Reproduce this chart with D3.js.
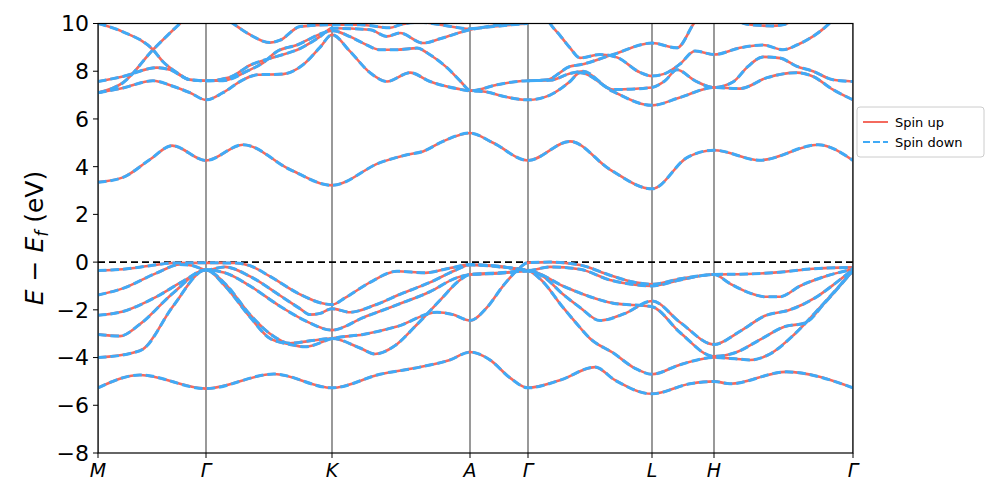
<!DOCTYPE html>
<html><head><meta charset="utf-8">
<script src="https://cdn.jsdelivr.net/npm/d3@7"></script>
<style>body{margin:0;background:#fff}svg{display:block}text{font-family:"DejaVu Sans",sans-serif}</style>
</head><body><svg id="c" width="997" height="498"></svg>
<script>
const kTicks = [0, 1.08, 2.34, 3.72, 4.30, 5.54, 6.16, 7.55];
const kLabels = ["M", "Γ", "K", "A", "Γ", "L", "H", "Γ"];
const yTicks = [-8, -6, -4, -2, 0, 2, 4, 6, 8, 10];
const seriesNames = ["Spin up", "Spin down"];

// bands: [k, E-Ef] samples
const bandBottom = [[0,-5.27],[0.42,-4.73],[1.08,-5.3],[1.76,-4.69],[2.34,-5.27],[2.82,-4.7],[3.22,-4.4],[3.52,-4.1],[3.72,-3.77],[3.92,-4.1],[4.12,-4.85],[4.30,-5.27],[4.62,-4.95],[4.97,-4.4],[5.17,-4.95],[5.54,-5.52],[5.92,-5.1],[6.16,-5.0],[6.32,-5.1],[6.88,-4.6],[7.55,-5.27]];
const bandV1 = [[0,-0.35],[0.25,-0.3],[0.52,-0.15],[0.75,-0.04],[1.08,-0.03],[1.37,-0.04],[1.52,-0.15],[1.72,-0.6],[2.02,-1.35],[2.22,-1.7],[2.34,-1.78],[2.47,-1.5],[2.72,-0.85],[2.99,-0.38],[3.27,-0.45],[3.52,-0.25],[3.72,-0.1],[4.02,-0.18],[4.30,-0.35],[4.52,-0.2],[4.82,-0.3],[5.12,-0.75],[5.37,-0.95],[5.54,-1.0],[5.82,-0.75],[6.16,-0.52],[6.32,-0.9],[6.52,-1.3],[6.67,-1.45],[6.82,-1.45],[7.02,-1.0],[7.27,-0.6],[7.55,-0.3]];
const bandV2 = [[0,-1.38],[0.25,-1.1],[0.59,-0.45],[0.82,-0.1],[0.95,-0.15],[1.08,-0.33],[1.27,-0.2],[1.52,-0.6],[1.82,-1.4],[2.02,-1.95],[2.12,-2.2],[2.22,-2.15],[2.34,-1.95],[2.52,-2.1],[2.77,-1.8],[3.02,-1.35],[3.32,-0.85],[3.57,-0.35],[3.72,-0.12],[4.02,-0.2],[4.30,-0.35],[4.39,-0.45],[4.65,-1.0],[4.92,-1.45],[5.15,-1.72],[5.54,-1.87],[5.82,-2.95],[6.16,-3.95],[6.37,-3.8],[6.62,-3.25],[6.87,-2.7],[7.07,-2.55],[7.27,-1.7],[7.55,-0.35]];
const bandV3 = [[0,-2.23],[0.25,-2.07],[0.59,-1.44],[0.85,-0.8],[1.08,-0.33],[1.27,-0.45],[1.52,-1.0],[1.82,-1.85],[2.07,-2.45],[2.34,-2.85],[2.65,-2.33],[2.99,-1.79],[3.32,-1.24],[3.59,-0.65],[3.72,-0.52],[4.02,-0.45],[4.30,-0.37],[4.45,-0.6],[4.65,-1.35],[4.82,-1.9],[5.02,-2.45],[5.27,-2.15],[5.54,-1.63],[5.82,-2.52],[6.16,-3.45],[6.42,-2.9],[6.67,-2.25],[6.92,-2.0],[7.17,-1.5],[7.37,-0.9],[7.55,-0.3]];
const bandV4 = [[0,-3.03],[0.22,-3.1],[0.42,-2.6],[0.75,-1.3],[1.08,-0.33],[1.27,-0.9],[1.52,-2.2],[1.72,-3.0],[1.92,-3.4],[2.12,-3.3],[2.34,-3.2],[2.62,-3.6],[2.77,-3.85],[2.97,-3.5],[3.17,-2.7],[3.42,-1.6],[3.62,-0.75],[3.72,-0.52],[4.02,-0.47],[4.30,-0.37],[4.42,-0.7],[4.65,-1.9],[4.82,-2.74],[4.92,-3.2],[5.15,-3.8],[5.37,-4.45],[5.54,-4.7],[5.82,-4.3],[6.16,-4.0],[6.37,-4.05],[6.52,-4.1],[6.72,-3.85],[6.97,-3.0],[7.22,-1.9],[7.55,-0.35]];
const bandV5 = [[0,-4.0],[0.35,-3.8],[0.45,-3.65],[0.75,-1.85],[1.08,-0.33],[1.27,-1.0],[1.52,-2.3],[1.72,-3.2],[1.92,-3.45],[2.07,-3.55],[2.34,-3.2],[2.65,-3.03],[2.99,-2.7],[3.39,-2.1],[3.55,-2.2],[3.72,-2.45],[3.89,-1.9],[4.05,-1.0],[4.19,-0.35],[4.30,-0.02],[4.52,0.0],[4.82,-0.12],[5.12,-0.55],[5.37,-0.85],[5.54,-0.93],[5.82,-0.7],[6.16,-0.52],[6.49,-0.5],[6.82,-0.42],[7.15,-0.28],[7.55,-0.22]];
const bandC1 = [[0,3.35],[0.25,3.55],[0.52,4.3],[0.74,4.88],[1.08,4.26],[1.45,4.92],[1.92,3.88],[2.34,3.22],[2.82,4.17],[3.09,4.5],[3.25,4.64],[3.45,5.06],[3.72,5.41],[3.95,5.0],[4.30,4.26],[4.72,5.06],[5.12,3.88],[5.54,3.07],[5.89,4.38],[6.16,4.69],[6.62,4.27],[7.20,4.92],[7.55,4.26]];
const bandU1 = [[0,10.0],[0.25,9.65],[0.55,8.9],[0.65,8.4],[0.79,7.94],[0.92,7.64],[1.08,7.6],[1.32,7.75],[1.52,8.25],[1.77,8.6],[2.02,8.95],[2.22,9.45],[2.34,9.8],[2.72,9.74],[2.89,9.46],[3.02,9.6],[3.25,9.18],[3.42,9.36],[3.72,9.74],[4.02,9.9],[4.30,10.0]];
const bandU2 = [[0,7.1],[0.25,7.52],[0.55,8.9],[0.82,10.0],[0.95,10.5]];
const bandU3 = [[0,7.57],[0.25,7.78],[0.59,8.15],[0.72,8.06],[0.92,7.64],[1.08,7.6],[1.25,7.6],[1.49,8.0],[1.65,8.35],[1.79,8.83],[1.99,9.1],[2.25,9.6],[2.34,9.7],[2.52,9.45],[2.65,9.18],[2.82,8.9],[2.99,8.9],[3.19,8.97],[3.32,8.69],[3.49,8.15],[3.62,7.6],[3.72,7.2],[3.89,7.13],[4.05,6.95],[4.30,6.8],[4.52,7.0],[4.72,7.57],[4.82,7.94],[5.15,7.15],[5.54,6.57],[5.82,6.9],[6.16,7.32],[6.42,7.27],[6.69,7.73],[6.99,7.94],[7.15,7.78],[7.35,7.23],[7.55,6.8]];
const bandU4 = [[0,7.1],[0.25,7.3],[0.55,7.6],[0.75,7.37],[0.92,7.1],[1.08,6.8],[1.25,7.1],[1.45,7.64],[1.59,7.85],[1.85,7.88],[2.05,8.27],[2.22,9.0],[2.34,9.53],[2.52,8.83],[2.72,7.94],[2.89,7.57],[3.12,7.94],[3.32,7.57],[3.59,7.27],[3.72,7.18],[3.99,7.43],[4.19,7.57],[4.30,7.6],[4.52,7.62],[4.72,7.9],[4.85,8.0],[5.15,7.23],[5.54,7.32],[5.67,7.6],[5.79,8.06],[5.97,7.6],[6.16,7.32],[6.35,7.55],[6.5,8.2],[6.65,8.6],[6.82,8.55],[6.99,8.2],[7.15,8.0],[7.35,7.64],[7.55,7.57]];
const bandU5 = [[1.22,10.4],[1.35,10.0],[1.52,9.53],[1.72,9.2],[1.82,9.3],[2.02,9.87],[2.34,9.95],[2.62,9.95],[2.92,9.82],[3.02,9.95],[3.22,10.05],[3.42,9.95],[3.72,9.78],[4.02,9.95],[4.30,10.02]];
const bandU6 = [[4.45,10.5],[4.52,10.0],[4.62,9.5],[4.72,8.98],[4.82,8.56],[5.02,8.7],[5.19,8.58],[5.42,7.95],[5.54,7.8],[5.67,7.9],[5.82,8.3],[5.97,8.85],[6.16,8.7],[6.42,8.98],[6.65,9.1],[6.85,8.9],[6.99,9.1],[7.15,9.46],[7.30,9.95],[7.40,10.4]];
const bandU7 = [[4.30,7.6],[4.49,7.64],[4.72,8.2],[4.82,8.27],[5.15,8.7],[5.54,9.18],[5.79,8.98],[5.95,9.95],[6.02,10.4]];
const bandU8 = [[6.32,10.3],[6.49,9.97],[6.75,9.9],[6.87,9.97],[7.0,10.3]];

const bands = [bandBottom, bandV1, bandV2, bandV3, bandV4, bandV5, bandC1, bandU1, bandU2, bandU3, bandU4, bandU5, bandU6, bandU7, bandU8];

const svg = d3.select("#c");
const L = 98, R = 853, T = 23.5, B = 453;
const x = d3.scaleLinear().domain([kTicks[0], kTicks[kTicks.length-1]]).range([L, R]);
const y = d3.scaleLinear().domain([-8, 10]).range([B, T]);

svg.append("defs").append("clipPath").attr("id","clip").append("rect")
  .attr("x", L).attr("y", T).attr("width", R-L).attr("height", B-T);

const g = svg.append("g").attr("clip-path","url(#clip)");
g.selectAll("line.kv").data(kTicks).join("line").attr("class","kv")
  .attr("x1", d=>x(d)).attr("x2", d=>x(d)).attr("y1", T).attr("y2", B)
  .attr("stroke", "#808080").attr("stroke-width", 1.6);
g.append("line").attr("x1", L).attr("x2", R).attr("y1", y(0)).attr("y2", y(0))
  .attr("stroke","#000").attr("stroke-width",1.8).attr("stroke-dasharray","7,4");

const line = d3.line().x(d=>x(d[0])).y(d=>y(d[1])).curve(d3.curveMonotoneX);
const RED = "#f46a5e", BLUE = "#40aaf6";
g.selectAll("path.up").data(bands).join("path").attr("class","up")
  .attr("d", line).attr("fill","none").attr("stroke", RED).attr("stroke-width", 2.6);
g.selectAll("path.dn").data(bands).join("path").attr("class","dn")
  .attr("d", line).attr("fill","none").attr("stroke", BLUE).attr("stroke-width", 3)
  .attr("stroke-dasharray","8.5,4");

svg.append("rect").attr("x", L).attr("y", T).attr("width", R-L).attr("height", B-T)
  .attr("fill","none").attr("stroke","#000").attr("stroke-width",1.2);

// y axis
const ya = svg.append("g");
ya.selectAll("line").data(yTicks).join("line")
  .attr("x1", L-5).attr("x2", L).attr("y1", d=>y(d)).attr("y2", d=>y(d)).attr("stroke","#000").attr("stroke-width",1);
ya.selectAll("text").data(yTicks).join("text")
  .attr("x", L-9).attr("y", d=>y(d)).attr("dy","0.36em").attr("text-anchor","end")
  .attr("font-size", 22).attr("fill","#000").text(d => d < 0 ? "\u2212" + Math.abs(d) : d);
// x axis
const xa = svg.append("g");
xa.selectAll("line").data(kTicks).join("line")
  .attr("x1", d=>x(d)).attr("x2", d=>x(d)).attr("y1", B).attr("y2", B+5).attr("stroke","#000").attr("stroke-width",1);
xa.selectAll("text").data(kLabels).join("text")
  .attr("x", (d,i)=>x(kTicks[i])).attr("y", 477).attr("text-anchor","middle")
  .attr("font-size", 19).attr("font-style","italic").attr("fill","#000").text(d=>d);

// y label
const yl = svg.append("text").attr("transform","translate(43,238) rotate(-90)")
  .attr("text-anchor","middle").attr("font-size",25).attr("fill","#000");
yl.append("tspan").attr("font-style","italic").text("E");
yl.append("tspan").text(" \u2212 ");
yl.append("tspan").attr("font-style","italic").text("E");
yl.append("tspan").attr("font-style","italic").attr("font-size",17).attr("dy",5).text("f");
yl.append("tspan").attr("dy",-5).text(" (eV)");

// legend
const lg = svg.append("g");
lg.append("rect").attr("x",857).attr("y",107).attr("width",127).attr("height",50).attr("rx",3)
  .attr("fill","#fff").attr("stroke","#cccccc").attr("stroke-width",1);
const items = lg.selectAll("g.it").data(seriesNames).join("g").attr("class","it")
  .attr("transform",(d,i)=>`translate(0,${122 + i*20})`);
items.append("line").attr("x1",863).attr("x2",888).attr("y1",0).attr("y2",0)
  .attr("stroke",(d,i)=>i===0?RED:BLUE).attr("stroke-width",2)
  .attr("stroke-dasharray",(d,i)=>i===0?null:"7,3");
items.append("text").attr("x",895).attr("y",0).attr("dy","0.35em").attr("font-size",13).attr("fill","#000").text(d=>d);
</script></body></html>
